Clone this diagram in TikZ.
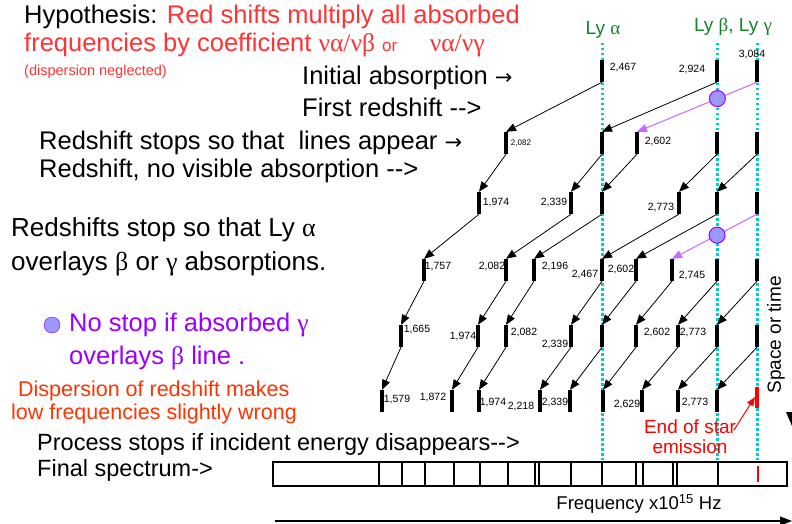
\documentclass[tikz,border=0pt]{standalone}
\usepackage{fontspec}
\setmainfont{Liberation Sans}
\newfontfamily\grk{Liberation Serif}
\newfontfamily\sym{DejaVu Sans}
\usetikzlibrary{arrows.meta}
\definecolor{hypred}{RGB}{255,51,51}
\definecolor{disporange}{RGB}{255,51,0}
\definecolor{nostop}{RGB}{153,0,255}
\definecolor{shiftviolet}{RGB}{204,102,255}
\definecolor{dotblue}{RGB}{153,153,255}
\definecolor{lygreen}{RGB}{20,130,40}
\definecolor{lycyan}{RGB}{0,204,204}
\newcommand\dd{-\kern0pt-\kern0pt>}
\newcommand\rarr{{\sym\fontsize{21}{21}\selectfont →}}

\begin{document}
\begin{tikzpicture}[x=1pt, y=-1pt,
    bar/.style={fill=black, minimum width=3.6pt, minimum height=22pt, inner sep=0pt},
    redbar/.style={bar, fill=red, minimum height=21pt},
    redsh/.style={draw=black, line width=0.8pt, -{Triangle[length=10pt, width=8pt]}},
    pshift/.style={redsh, draw=shiftviolet, color=shiftviolet, line width=1pt},
    dot/.style={circle, fill=dotblue, draw=nostop, minimum size=16pt, inner sep=0pt},
    lyline/.style={draw=lycyan, line width=3pt, dash pattern=on 2.5pt off 2.5pt},
    num/.style={font=\fontsize{10.5}{11}\selectfont, inner sep=0pt},
    big/.style={font=\fontsize{25.5}{30}\selectfont, anchor=west, inner sep=0pt},
    mid/.style={font=\fontsize{21.5}{26}\selectfont, anchor=west, inner sep=0pt},
    proc/.style={font=\fontsize{23.5}{28}\selectfont, anchor=west, inner sep=0pt},
    lylab/.style={font=\fontsize{19}{22}\selectfont, text=lygreen, inner sep=0pt},
    spec/.style={draw=black, line width=2pt}
]
    \useasboundingbox (0,0) rectangle (792,524);

    % Lyman lines
    \draw[lyline] (602,43) -- (602,460);
    \draw[lyline] (717,43) -- (717,460);
    \draw[lyline] (757,43) -- (757,460);
    \node[lylab] (lya) at (603,30) {Ly {\grk α}};
    \node[lylab] (lybg) at (733,27) {Ly {\grk β}, Ly {\grk γ}};

    % texts
    \node[big] (hyp) at (24,17) {Hypothesis: \textcolor{hypred}{Red shifts multiply all absorbed}};
    \node[big, text=hypred] (coef) at (24,45) {frequencies by coefficient {\grk να/νβ}\ {\fontsize{17}{17}\selectfont or}\quad\ {\grk να/νγ}};
    \node[font=\fontsize{14.5}{16}\selectfont, text=hypred, anchor=west, inner sep=0pt] (negl) at (24,72) {(dispersion neglected)};
    \node[big] (init) at (302,78) {Initial absorption \rarr};
    \node[big] (first) at (302,107) {First redshift \dd};
    \node[big] (lines) at (39,143) {Redshift stops so that\ \ lines appear \rarr};
    \node[big] (novis) at (39,171) {Redshift, no visible absorption \dd};
    \node[big, font=\fontsize{26}{30}\selectfont] (lyst1) at (11,230) {Redshifts stop so that Ly {\grk α}};
    \node[big, font=\fontsize{26}{30}\selectfont] (lyst2) at (11,264) {overlays {\grk β} or {\grk γ} absorptions.};
    \node[dot] (key) at (52,325) {};
    \node[big, text=nostop] (nost1) at (69,325) {No stop if absorbed {\grk γ}};
    \node[big, text=nostop] (nost2) at (69,358) {overlays {\grk β} line .};
    \node[mid, text=disporange] (disp1) at (18,391) {Dispersion of redshift makes};
    \node[mid, text=disporange] (disp2) at (11,414) {low frequencies slightly wrong};
    \node[proc] (proc) at (37,444) {Process stops if incident energy disappears\dd};
    \node[proc] (final) at (37,470) {Final spectrum->};
    \node[font=\fontsize{19}{20}\selectfont, rotate=90, inner sep=0pt] (space) at (776,335) {Space or time};

    % row 0
    \node[bar] (r0a) at (602,71) {};
    \node[bar] (r0b) at (717,71) {};
    \node[bar] (r0c) at (757,71) {};
    % row 1
    \node[bar] (r1a) at (506,143) {};
    \node[bar] (r1b) at (602,143) {};
    \node[bar] (r1c) at (637,143) {};
    \node[bar] (r1d) at (717,143) {};
    \node[bar] (r1e) at (757,143) {};
    % row 2
    \node[bar] (r2a) at (479,203) {};
    \node[bar] (r2b) at (571,203) {};
    \node[bar] (r2c) at (602,203) {};
    \node[bar] (r2d) at (679,203) {};
    \node[bar] (r2e) at (717,203) {};
    \node[bar] (r2f) at (757,203) {};
    % row 3
    \node[bar] (r3a) at (424,270) {};
    \node[bar] (r3b) at (506,270) {};
    \node[bar] (r3c) at (534,270) {};
    \node[bar] (r3d) at (602,270) {};
    \node[bar] (r3e) at (636,270) {};
    \node[bar] (r3f) at (672,270) {};
    \node[bar] (r3g) at (717,270) {};
    \node[bar] (r3h) at (757,270) {};
    % row 4
    \node[bar] (r4a) at (401,336) {};
    \node[bar] (r4b) at (478,336) {};
    \node[bar] (r4c) at (506,336) {};
    \node[bar] (r4d) at (571,336) {};
    \node[bar] (r4e) at (602,336) {};
    \node[bar] (r4f) at (636,336) {};
    \node[bar] (r4g) at (678,336) {};
    \node[bar] (r4h) at (717,336) {};
    \node[bar] (r4i) at (757,336) {};
    % row 5
    \node[bar] (r5a) at (382,401) {};
    \node[bar] (r5b) at (452,401) {};
    \node[bar] (r5c) at (479,401) {};
    \node[bar] (r5d) at (540,401) {};
    \node[bar] (r5e) at (570,401) {};
    \node[bar] (r5f) at (603,401) {};
    \node[bar] (r5g) at (642,401) {};
    \node[bar] (r5h) at (678,401) {};
    \node[bar] (r5i) at (717,401) {};
    \node[redbar] (r5j) at (757,397) {};

    % frequencies
    \node[num] (n0a) at (623,68) {2,467};
    \node[num] (n0b) at (692,70) {2,924};
    \node[num] (n0c) at (752,55) {3,084};
    \node[num, font=\fontsize{8}{9}\selectfont] (n1a) at (521,143) {2,082};
    \node[num] (n1c) at (658,142) {2,602};
    \node[num] (n2a) at (496,203) {1,974};
    \node[num] (n2b) at (554,203) {2,339};
    \node[num] (n2d) at (661,208) {2,773};
    \node[num] (n3a) at (438,267) {1,757};
    \node[num] (n3b) at (492,267) {2,082};
    \node[num] (n3c) at (555,267) {2,196};
    \node[num] (n3d) at (585,275) {2,467};
    \node[num] (n3e) at (621,270) {2,602};
    \node[num] (n3f) at (692,276) {2,745};
    \node[num] (n4a) at (417,330) {1,665};
    \node[num] (n4b) at (463,337) {1,974};
    \node[num] (n4c) at (524,333) {2,082};
    \node[num] (n4d) at (555,345) {2,339};
    \node[num] (n4f) at (657,333) {2,602};
    \node[num] (n4g) at (693,333) {2,773};
    \node[num] (n5a) at (397,400) {1,579};
    \node[num] (n5b) at (433,398) {1,872};
    \node[num] (n5c) at (493,403) {1,974};
    \node[num] (n5d) at (521,407) {2,218};
    \node[num] (n5e) at (555,403) {2,339};
    \node[num] (n5g) at (627,405) {2,629};
    \node[num] (n5h) at (695,403) {2,773};

    % redshifts
    \draw[redsh] (r0a.south) -- (r1a.north);
    \draw[redsh] (r0b.south) -- (r1b.north);
    \draw[pshift] (r0c.south) -- node[dot, pos=.33] (c1) {} (r1c.north);
    \draw[redsh] (r1a.south) -- (r2a.north);
    \draw[redsh] (r1b.south) -- (r2b.north);
    \draw[redsh] (r1c.south) -- (r2c.north);
    \draw[redsh] (r1d.south) -- (r2d.north);
    \draw[redsh] (r1e.south) -- (r2e.north);
    \draw[redsh] (r2a.south) -- (r3a.north);
    \draw[redsh] (r2b.south) -- (r3b.north);
    \draw[redsh] (r2c.south) -- (r3c.north);
    \draw[redsh] (r2d.south) -- (r3d.north);
    \draw[redsh] (r2e.south) -- (r3e.north);
    \draw[pshift] (r2f.south) -- node[dot, pos=.47] (c2) {} (r3f.north);
    \draw[redsh] (r3a.south) -- (r4a.north);
    \draw[redsh] (r3b.south) -- (r4b.north);
    \draw[redsh] (r3c.south) -- (r4c.north);
    \draw[redsh] (r3d.south) -- (r4d.north);
    \draw[redsh] (r3e.south) -- (r4e.north);
    \draw[redsh] (r3f.south) -- (r4f.north);
    \draw[redsh] (r3g.south) -- (r4g.north);
    \draw[redsh] (r3h.south) -- (r4h.north);
    \draw[redsh] (r4a.south) -- (r5a.north);
    \draw[redsh] (r4b.south) -- (r5b.north);
    \draw[redsh] (r4c.south) -- (r5c.north);
    \draw[redsh] (r4d.south) -- (r5d.north);
    \draw[redsh] (r4e.south) -- (r5e.north);
    \draw[redsh] (r4f.south) -- (r5f.north);
    \draw[redsh] (r4g.south) -- (r5g.north);
    \draw[redsh] (r4h.south) -- (r5h.north);
    \draw[redsh] (r4i.south) -- (r5i.north);

    % end of emission
    \node[font=\fontsize{19}{20}\selectfont, text=red, align=center, inner sep=0pt] (endst) at (690,437) {End of star\\emission};
    \coordinate (etail) at (734,430);
    \draw[red, line width=1pt, -{Triangle[length=9pt, width=7pt]}] (etail) -- (r5j.west);

    % final spectrum
    \draw[spec] (273,462) rectangle (787,486);
    \draw[line width=1.6pt] (379,462) -- (379,486) (402,462) -- (402,486) (425,462) -- (425,486)
        (454,462) -- (454,486) (480,462) -- (480,486) (508,462) -- (508,486)
        (535,462) -- (535,486) (539,462) -- (539,486) (571,462) -- (571,486)
        (602,462) -- (602,486) (636,462) -- (636,486) (643,462) -- (643,486)
        (673,462) -- (673,486) (677,462) -- (677,486) (718,462) -- (718,486);
    \draw[red, line width=2pt] (758,466) -- (758,482);

    % frequency axis
    \coordinate (f0) at (275,521);
    \coordinate (f1) at (792,521);
    \draw[line width=1.2pt, -{Triangle[length=12pt, width=9pt]}] (f0) -- (f1);
    \node[font=\fontsize{18.5}{20}\selectfont, inner sep=0pt] (freq) at (639,504) {Frequency x10\textsuperscript{15} Hz};
    \fill (786,412) -- (798,412) -- (792,426) -- cycle;
\end{tikzpicture}
\end{document}
